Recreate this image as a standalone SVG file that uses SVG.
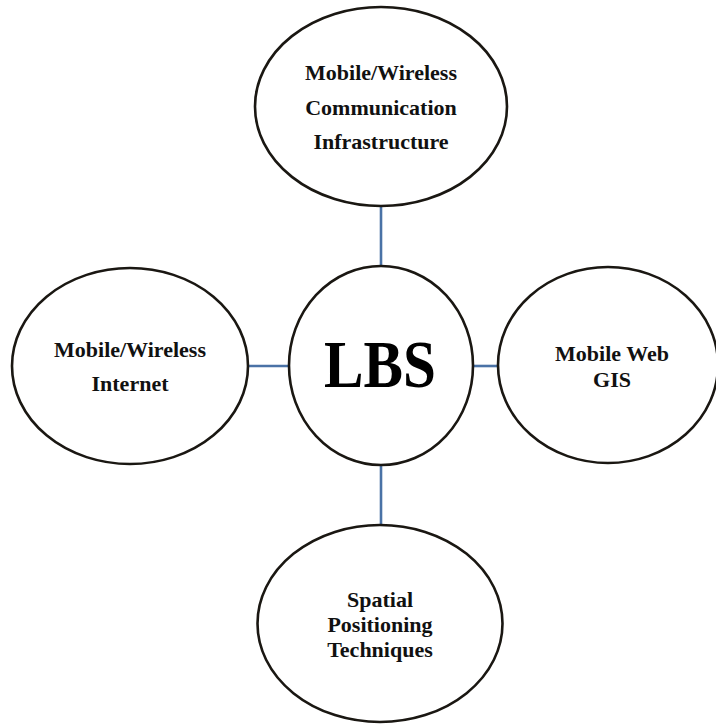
<svg xmlns="http://www.w3.org/2000/svg" width="716" height="725" viewBox="0 0 716 725">
  <style>
    .node { fill: #ffffff; stroke: #1a1712; stroke-width: 2.6; }
    .link { stroke: #4a72a6; stroke-width: 2.6; fill: none; }
    .label { font-family: "Liberation Serif", "Times New Roman", serif; font-weight: bold; font-size: 22px; fill: #111111; text-anchor: middle; }
    .core { font-family: "Liberation Serif", "Times New Roman", serif; font-weight: bold; font-size: 68px; fill: #000000; text-anchor: middle; }
  </style>
  <rect width="716" height="725" fill="#ffffff"/>

  <!-- connectors between the hub and the four surrounding nodes -->
  <g id="connectors">
    <line class="link" x1="381" y1="206" x2="381" y2="267"/>
    <line class="link" x1="381" y1="465" x2="381" y2="525"/>
    <line class="link" x1="248" y1="366" x2="290" y2="366"/>
    <line class="link" x1="472" y1="366" x2="498" y2="366"/>
  </g>

  <g id="node-communication">
    <ellipse class="node" cx="381" cy="106.5" rx="126" ry="99.5"/>
    <text class="label" x="381" y="80">Mobile/Wireless</text>
    <text class="label" x="381" y="115">Communication</text>
    <text class="label" x="381" y="149">Infrastructure</text>
  </g>

  <g id="node-internet">
    <ellipse class="node" cx="130" cy="366" rx="118" ry="98"/>
    <text class="label" x="130" y="357">Mobile/Wireless</text>
    <text class="label" x="130" y="391">Internet</text>
  </g>

  <g id="node-lbs">
    <ellipse class="node" cx="381" cy="365.5" rx="92" ry="99.5"/>
    <text class="core" x="0" y="387" transform="translate(380 0) scale(0.87 1)">LBS</text>
  </g>

  <g id="node-webgis">
    <ellipse class="node" cx="608" cy="365" rx="110" ry="98"/>
    <text class="label" x="612" y="361">Mobile Web</text>
    <text class="label" x="612" y="387">GIS</text>
  </g>

  <g id="node-positioning">
    <ellipse class="node" cx="380" cy="623.5" rx="122.5" ry="98.5"/>
    <text class="label" x="380" y="607">Spatial</text>
    <text class="label" x="380" y="632">Positioning</text>
    <text class="label" x="380" y="657">Techniques</text>
  </g>
</svg>
